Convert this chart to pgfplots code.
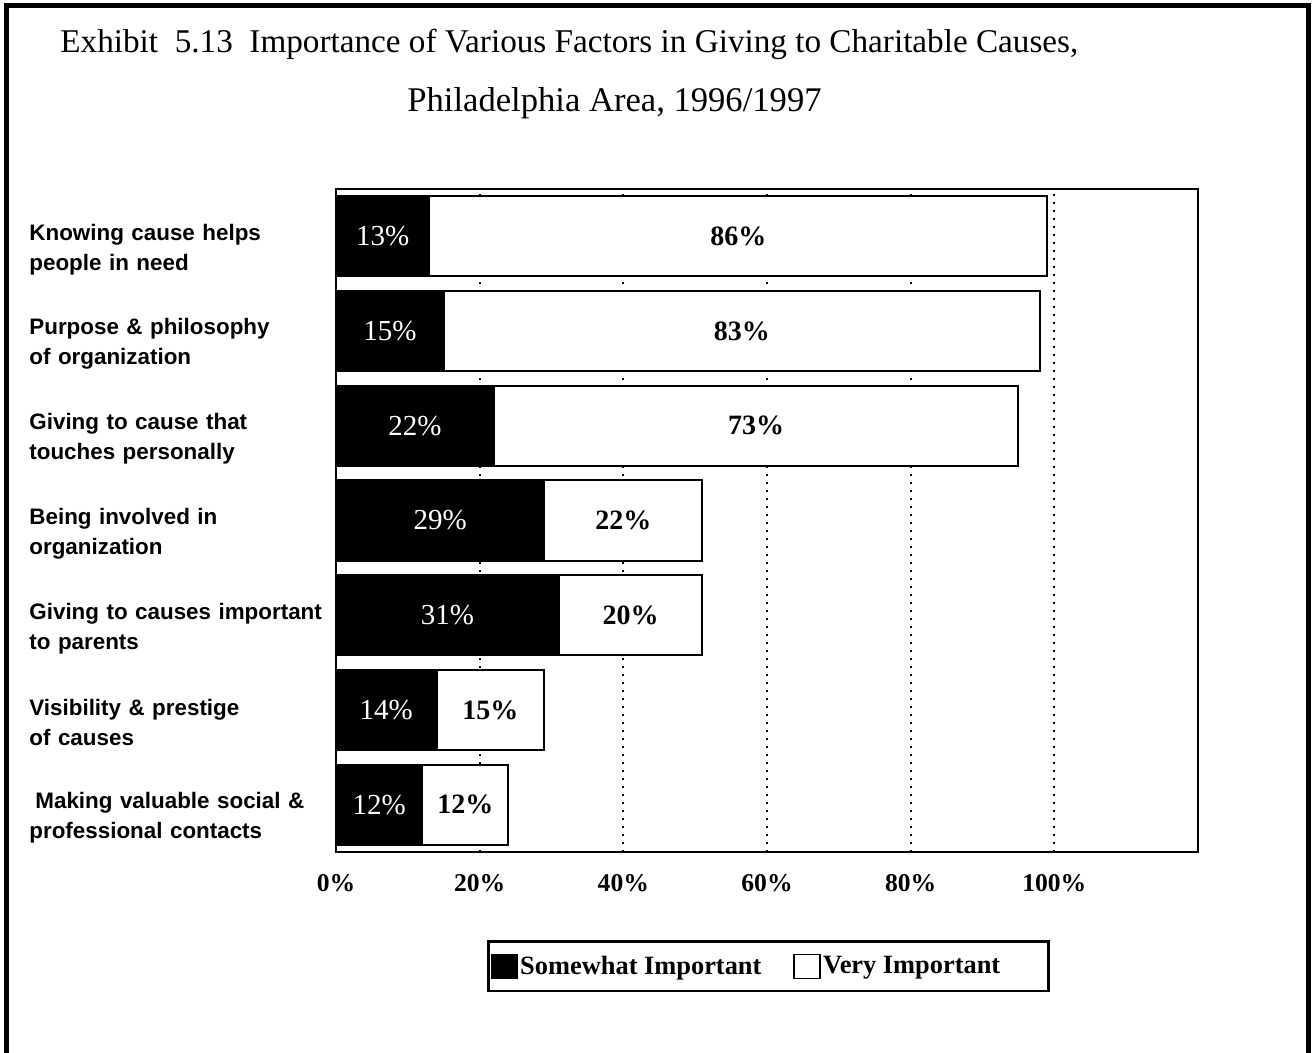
\documentclass[border=0pt]{standalone}
\usepackage{fontspec}
\setmainfont{Liberation Serif}
\newfontfamily\arial{Liberation Sans}
\usepackage{pgfplots}
\pgfplotsset{compat=1.18}
\usepackage{pgfplotstable}

% pos: row from the bottom; some: somewhat important; very: very important
\pgfplotstableread{
pos some very
7 13 86
6 15 83
5 22 73
4 29 22
3 31 20
2 14 15
1 12 12
}\factors

\begin{document}
\begin{tikzpicture}
\begin{scope}[x=0.5pt,y=0.5pt]
\path[use as bounding box] (0,0) rectangle (1315,1053);
% page frame (open at the bottom)
\draw[line width=2.5pt] (6,0) -- (6,1047) -- (1308,1047) -- (1308,0);
% title
\node[anchor=base west, inner sep=0pt, font=\fontsize{16.6}{20}\selectfont]
  at (60,1000) {Exhibit\ \ 5.13\ \ Importance of Various Factors in Giving to Charitable Causes,};
\node[anchor=base west, inner sep=0pt, font=\fontsize{17.3}{20}\selectfont]
  at (407,941) {Philadelphia Area, 1996/1997};
\end{scope}

\begin{axis}[
  at={(168pt,100.5pt)}, anchor=south west,
  scale only axis, width=431pt, height=331.5pt,
  /pgf/number format/assume math mode=true,
  xbar stacked, bar width=0.845,
  xmin=0, xmax=120, ymin=0.5, ymax=7.5,
  xtick={0,20,40,60,80,100},
  xticklabel={\pgfmathprintnumber{\tick}\%},
  xticklabel style={font=\bfseries\fontsize{12.8}{14}\selectfont, yshift=-7.5pt},
  ytick={1,2,3,4,5,6,7},
  yticklabels={
    {\hspace*{3pt}Making valuable social \&\\professional contacts},
    {Visibility \& prestige\\of causes},
    {Giving to causes important\\to parents},
    {Being involved in\\organization},
    {Giving to cause that\\touches personally},
    {Purpose \& philosophy\\of organization},
    {Knowing cause helps\\people in need}},
  yticklabel style={font=\arial\bfseries\fontsize{11.2}{15}\selectfont,
    text width=150pt, align=left, anchor=west, xshift=-153.5pt,
    inner sep=0pt, yshift=-6.5pt},
  major tick length=0pt,
  xmajorgrids,
  grid style={line width=1pt, dash pattern=on 1pt off 3pt, black},
  axis line style={line width=1.3pt},
  legend columns=2,
  legend style={at={(0.5017,-0.1727)}, anchor=center, draw=black,
    line width=1.2pt, inner xsep=1pt, inner ysep=6pt,
    font=\bfseries\fontsize{13.2}{15}\selectfont,
    nodes={inner sep=1pt},
    /tikz/every even column/.append style={column sep=15pt}},
  legend image code/.code={\draw[#1, line width=0.8pt] (0pt,-6pt) rectangle (13pt,6pt);},
]
\addplot[fill=black, draw=black, line width=1pt] table[x=some, y=pos] {\factors};
\addplot[fill=white, draw=black, line width=1pt] table[x=very, y=pos] {\factors};
\legend{Somewhat Important, Very Important\hspace*{22pt}}
\end{axis}

% segment values, centred in each segment
\begin{axis}[
  at={(168pt,100.5pt)}, anchor=south west,
  scale only axis, width=431pt, height=331.5pt,
  /pgf/number format/assume math mode=true,
  xmin=0, xmax=120, ymin=0.5, ymax=7.5,
  hide axis,
]
\addplot[draw=none, point meta=explicit,
  nodes near coords={\pgfmathprintnumber{\pgfplotspointmeta}\%},
  every node near coord/.append style={anchor=center, text=white,
    font=\fontsize{14.5}{16}\selectfont}]
  table[x expr=\thisrow{some}/2, y=pos, meta=some] {\factors};
\addplot[draw=none, point meta=explicit,
  nodes near coords={\pgfmathprintnumber{\pgfplotspointmeta}\%},
  every node near coord/.append style={anchor=center, text=black,
    font=\bfseries\fontsize{14}{16}\selectfont}]
  table[x expr=\thisrow{some}+\thisrow{very}/2, y=pos, meta=very] {\factors};
\end{axis}
\end{tikzpicture}
\end{document}
